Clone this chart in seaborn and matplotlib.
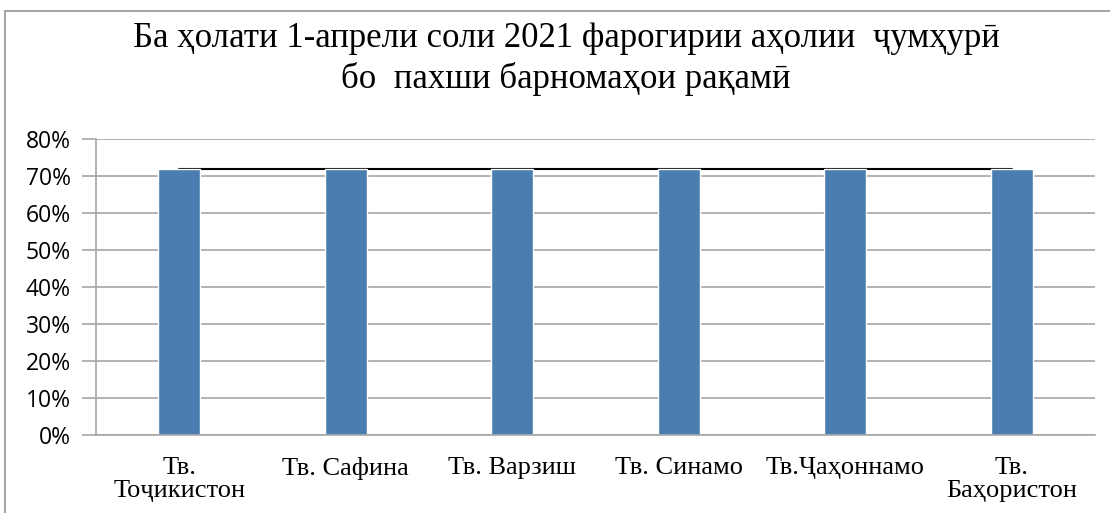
import matplotlib
matplotlib.use('Agg')
import matplotlib.pyplot as plt
import seaborn as sns
from matplotlib.ticker import PercentFormatter, MultipleLocator
from matplotlib.patches import Rectangle

# ============================================================
# Data
# ============================================================
categories = ['Тв.\nТоҷикистон', 'Тв. Сафина', 'Тв. Варзиш',
              'Тв. Синамо', 'Тв.Ҷаҳоннамо', 'Тв.\nБаҳористон']
coverage = [0.72, 0.72, 0.72, 0.72, 0.72, 0.72]

title = ('Ба ҳолати 1-апрели соли 2021 фарогирии аҳолии  ҷумҳурӣ\n'
         'бо  пахши барномаҳои рақамӣ')

sns.set_style('white')
serif = ['Liberation Serif', 'DejaVu Serif']
sans = ['Open Sans', 'DejaVu Sans']

fig = plt.figure(figsize=(11.1, 5.13), dpi=100)
ax = fig.add_axes([96 / 1110, 1 - 435 / 513, 999 / 1110, 296 / 513])

# line series behind bars
sns.lineplot(x=categories, y=coverage, sort=False, color='black',
             linewidth=1.5, ax=ax, zorder=1)
sns.barplot(x=categories, y=coverage, color='#4a7eb0', width=0.25,
            saturation=1, ax=ax, zorder=2)

ax.set_ylim(0, 0.8)
ax.set_xlim(-0.5, 5.5)
ax.yaxis.set_major_locator(MultipleLocator(0.1))
ax.yaxis.set_major_formatter(PercentFormatter(1.0, decimals=0))
ax.grid(True, axis='y', color='#a6a6a6', linewidth=1.2, zorder=0)
ax.set_axisbelow(True)

for s in ['top', 'right']:
    ax.spines[s].set_visible(False)
ax.spines['left'].set_color('#a6a6a6')
ax.spines['bottom'].set_color('#a6a6a6')
ax.spines['left'].set_linewidth(1.2)
ax.spines['bottom'].set_linewidth(1.2)

ax.tick_params(axis='y', left=True, length=10, color='#a6a6a6', width=1.2,
               labelsize=16.5, pad=8, labelcolor='black')
ax.tick_params(axis='x', bottom=False, labelsize=19, pad=12,
               labelcolor='black')
for lab in ax.get_yticklabels():
    lab.set_family(sans)
for lab in ax.get_xticklabels():
    lab.set_family(serif)
    lab.set_linespacing(1.1)
ax.set_xlabel('')
ax.set_ylabel('')

fig.text(566 / 1110, 1 - 59 / 513, title, ha='center', va='center',
         fontsize=25, family=serif, linespacing=1.3, color='black')

# outer chart border
fig.add_artist(Rectangle((5 / 1110, -0.1), 1.2, 1.1 - 11 / 513,
                         transform=fig.transFigure, fill=False,
                         edgecolor='#a6a6a6', linewidth=1.5))

plt.savefig('out.png', dpi=100)
